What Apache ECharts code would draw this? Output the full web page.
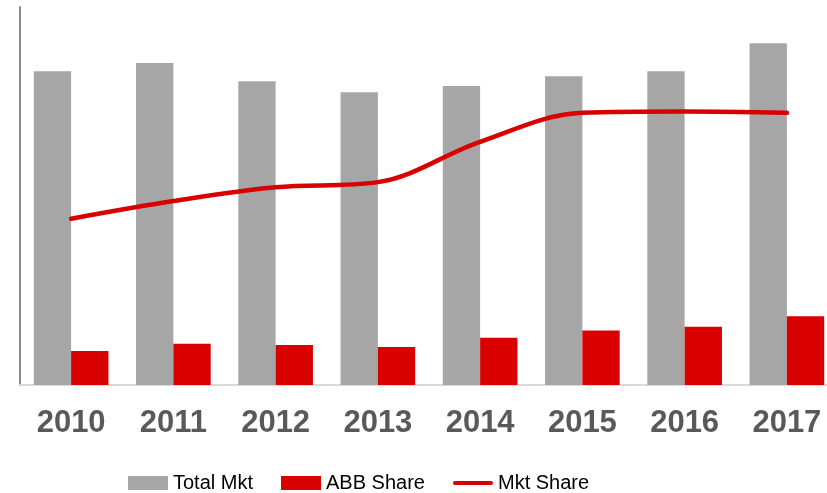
<!DOCTYPE html>
<html>
<head>
<meta charset="utf-8">
<script src="https://cdn.jsdelivr.net/npm/echarts@6/dist/echarts.min.js"></script>
<style>
  html, body { margin: 0; padding: 0; background: #fff; overflow: hidden; }
  #chart { width: 838px; height: 493px; }
</style>
</head>
<body>
<div id="chart"></div>
<script>
// 年份
var years = ["2010", "2011", "2012", "2013", "2014", "2015", "2016", "2017"];
// 市场总量 / ABB 份额 (bars, same axis)
var totalMkt = [99.6, 102.2, 96.4, 92.9, 94.9, 98.0, 99.6, 108.5];
var abbShare = [10.8, 13.1, 12.7, 12.1, 15.0, 17.3, 18.5, 21.8];
// 市占率 % (line, secondary axis)
var mktShare = [13.2, 14.6, 15.7, 16.1, 19.3, 21.6, 21.7, 21.6];

var red = "#d90000";
var gray = "#a6a6a6";

var myChart = echarts.init(document.getElementById("chart"));
var option = {
  animation: false,
  grid: {
    left: 20,
    top: 7,
    bottom: 108,
    right: 0,
    containLabel: false,
  },
  legend: {
    top: 468,
    left: 123,
    itemWidth: 40,
    itemHeight: 14,
    itemGap: 28,
    textStyle: {
      fontFamily: "Liberation Sans",
      fontSize: 20,
      color: "#000",
    },
    data: [
      { name: "Total Mkt", icon: "rect" },
      { name: "ABB Share", icon: "rect" },
      {
        name: "Mkt Share",
        // 粗线图例
        icon: "path://M2,0 L42,0 A2.2,2.2 0 0 1 42,4.4 L2,4.4 A2.2,2.2 0 0 1 2,0 Z",
      },
    ],
  },
  xAxis: {
    type: "category",
    data: years,
    axisTick: { show: false },
    axisLine: {
      show: true,
      lineStyle: { color: "#d9d9d9", width: 2 },
    },
    axisLabel: {
      color: "#595959",
      fontFamily: "Liberation Sans",
      fontWeight: "bold",
      fontSize: 31,
      margin: 23,
      interval: 0,
    },
  },
  yAxis: [
    {
      type: "value",
      min: 0,
      max: 120,
      axisLine: {
        show: true,
        lineStyle: { color: "#8c8c8c", width: 2 },
      },
      axisTick: { show: false },
      axisLabel: { show: false },
      splitLine: { show: false },
    },
    {
      type: "value",
      min: 0,
      max: 30,
      show: false,
      splitLine: { show: false },
    },
  ],
  series: [
    {
      name: "Total Mkt",
      type: "bar",
      data: totalMkt,
      barGap: "0%",
      barCategoryGap: "27%",
      itemStyle: { color: gray },
    },
    {
      name: "ABB Share",
      type: "bar",
      data: abbShare,
      itemStyle: { color: red },
    },
    {
      name: "Mkt Share",
      type: "line",
      yAxisIndex: 1,
      data: mktShare,
      smooth: 0.35,
      symbol: "none",
      lineStyle: { color: red, width: 4.5, cap: "round" },
      itemStyle: { color: red },
    },
  ],
};
myChart.setOption(option);
</script>
</body>
</html>
